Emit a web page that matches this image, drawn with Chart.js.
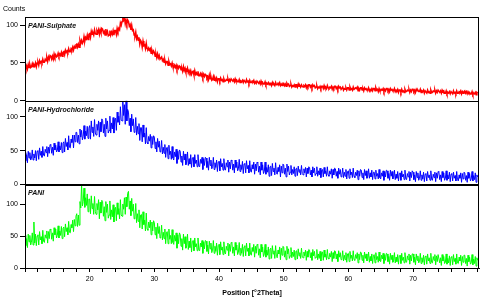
<!DOCTYPE html>
<html>
<head>
<meta charset="utf-8">
<script src="https://cdn.jsdelivr.net/npm/chart.js@4.4.0/dist/chart.umd.min.js"></script>
<style>
html,body{margin:0;padding:0;background:#fff;}
</style>
</head>
<body>
<canvas id="xrd" width="491" height="302"></canvas>
<script>
// scan: 10 .. 80 deg 2theta, 0.125 deg step, one row = 1 degree
var start = 10, step = 0.125;
var names = ['PANI-Sulphate', 'PANI-Hydrochloride', 'PANI'];
var colours = ['#ff0000', '#0000ff', '#00ff00'];
var widths = [1.5, 1, 1];
var yTicks = [0, 50, 100];
var xLabels = [20, 30, 40, 50, 60, 70];

var sulphate = [
 46,42,46,42,48,44,48,44, 45,49,45,48,46,50,45,50, 51,47,53,50,52,50,55,51, 51,55,53,57,52,58,55,60,
 59,55,59,55,62,58,61,58, 59,63,59,62,60,64,59,64, 65,61,67,64,66,64,69,65, 65,69,67,71,67,72,70,74,
 75,71,75,71,80,76,80,76, 78,85,79,84,82,87,81,88, 89,84,92,88,90,87,94,89, 88,93,90,94,88,94,90,96,
 95,90,92,87,95,89,92,86, 87,93,87,91,88,93,87,93, 93,88,96,92,96,94,103,100, 105,111,107,110,102,107,102,107,
 105,99,101,94,100,93,94,87, 86,91,82,85,80,84,75,80, 78,71,79,73,74,69,76,69, 68,70,67,69,63,67,63,66,
 64,59,62,57,62,57,60,55, 55,58,53,55,51,54,49,52, 52,47,52,48,49,46,50,45, 44,47,44,47,42,46,43,46,
 45,41,43,39,45,40,43,38, 39,43,37,40,37,40,35,38, 39,34,40,35,37,34,39,33, 33,36,33,36,31,35,32,35,
 34,30,32,28,34,29,32,27, 28,32,27,30,27,30,25,29, 29,26,30,27,28,25,29,26, 26,28,27,29,25,28,26,29,
 29,26,28,25,29,26,27,25, 25,28,24,26,25,27,24,27, 27,24,28,25,26,23,27,24, 24,26,25,27,23,25,23,26,
 26,23,25,22,26,23,24,22, 22,25,21,23,22,24,21,23, 23,20,24,21,22,20,24,21, 21,23,22,24,20,22,20,23,
 23,20,22,19,23,21,22,19, 20,22,18,20,19,21,18,21, 21,18,22,19,20,18,21,19, 18,20,19,21,17,20,18,21,
 21,18,20,17,21,19,20,17, 18,20,16,18,17,19,16,19, 19,16,20,17,18,16,20,17, 16,18,17,19,15,18,16,19,
 19,16,18,15,19,17,18,15, 15,18,14,16,15,17,14,17, 17,14,18,15,16,14,18,15, 15,17,16,18,13,16,14,17,
 17,14,16,13,17,15,16,14, 14,17,13,15,14,16,13,16, 16,13,17,14,15,12,16,13, 13,15,14,16,12,15,13,16,
 16,13,15,12,16,14,15,13, 13,16,12,14,13,15,11,14, 14,11,15,12,13,11,15,12, 12,14,13,15,11,14,12,15,
 15,12,14,11,15,13,14,12, 12,15,11,13,12,14,10,13, 13,10,14,11,12,10,14,11, 11,13,12,14,10,13,11,14,
 14,11,13,10,14,12,13,10, 10,13,9,11,10,12,9,12, 12,9,13,10,11,9,13,10, 10,12,11,13,9,12,10,12,
 13,10,12,9,12,10,11,9, 9,12,8,10,9,11,8,11,
 10
];

var hydrochloride = [
 47,35,44,32,49,39,47,36, 38,51,36,45,39,50,35,49, 50,37,54,43,49,40,56,43, 42,52,47,56,41,55,46,59,
 58,46,55,43,61,51,58,48, 50,63,48,57,51,62,47,61, 63,48,68,56,62,51,72,55, 54,67,62,73,54,73,63,77,
 77,62,73,60,82,70,80,66, 71,87,67,79,72,86,68,83, 87,67,94,77,85,71,96,76, 73,89,80,94,70,92,78,97,
 95,76,89,71,98,82,94,76, 80,101,76,91,82,99,76,96, 98,80,107,92,101,88,115,95, 94,123,102,118,89,124,94,111,
 107,87,98,78,104,87,97,77, 80,99,73,86,75,90,65,84, 84,63,88,70,76,60,84,62, 60,71,64,74,54,71,59,72,
 70,53,63,48,68,55,64,48, 51,65,45,55,46,59,40,54, 55,38,58,44,49,37,56,39, 36,48,41,52,31,49,37,51,
 49,33,42,28,49,36,45,29, 33,48,28,38,30,44,25,39, 40,26,44,31,36,26,44,28, 26,37,31,40,22,38,28,40,
 39,25,34,21,40,28,36,23, 26,40,22,32,25,36,19,33, 34,20,38,26,31,21,38,23, 21,32,26,36,18,33,23,36,
 35,21,30,17,36,25,33,20, 23,37,19,29,22,34,16,30, 31,17,35,23,28,17,35,20, 18,29,23,33,15,30,20,33,
 32,18,27,14,33,21,29,16, 19,33,15,25,18,29,12,26, 27,13,31,19,24,14,32,17, 15,25,19,29,11,27,17,30,
 29,15,24,11,30,19,27,14, 18,28,14,22,16,26,12,23, 24,13,27,18,22,14,28,16, 14,23,17,25,11,24,16,26,
 25,14,21,11,26,17,24,13, 16,26,12,20,14,24,10,21, 22,11,25,16,20,12,26,14, 12,20,15,23,9,22,14,24,
 23,12,19,9,24,15,22,11, 14,24,10,18,12,22,8,19, 20,9,23,14,18,10,24,12, 10,18,13,21,7,20,12,22,
 21,10,17,7,22,13,20,9, 12,23,9,17,11,21,7,18, 18,8,21,12,16,8,22,10, 8,17,12,20,6,19,11,21,
 20,9,16,6,21,12,19,8, 10,21,7,15,9,19,5,16, 17,6,20,11,15,7,21,9, 7,16,11,19,5,18,10,20,
 18,7,14,4,19,10,17,6, 9,20,6,14,8,18,4,15, 16,5,19,10,14,6,20,8, 6,15,10,18,4,17,9,19,
 18,7,14,4,19,10,17,6, 9,20,6,14,8,18,4,15, 16,5,18,9,13,5,19,7, 5,14,9,17,3,16,8,18,
 17,6,13,3,18,9,16,5, 8,19,5,13,7,17,3,14,
 11
];

var pani = [
 51,35,46,32,53,41,51,36, 40,55,36,72,39,53,35,50, 52,36,57,44,49,38,59,42, 40,52,47,58,39,57,46,61,
 60,45,55,42,63,52,61,47, 51,66,47,58,51,65,46,62, 64,49,69,57,63,52,73,56, 55,68,63,75,57,76,66,81,
 85,65,83,67,104,94,131,97, 104,125,95,110,98,116,88,108, 108,85,113,93,101,84,112,88, 84,101,91,107,77,103,86,106,
 104,81,96,74,104,87,100,78, 83,105,76,91,80,99,72,93, 95,74,102,84,93,77,107,83, 81,100,92,110,84,111,96,117,
 120,92,105,82,109,89,100,77, 80,101,71,85,73,91,63,83, 84,61,88,68,75,58,86,61, 59,72,63,75,52,72,58,74,
 71,52,64,46,70,54,65,47, 50,67,44,56,46,61,38,56, 57,38,61,45,51,38,60,40, 37,51,42,55,31,52,38,55,
 52,34,46,28,53,38,49,31, 35,53,29,42,32,47,25,42, 43,27,47,33,38,27,47,29, 27,39,33,43,23,41,30,43,
 42,26,36,22,42,30,39,24, 28,43,23,34,26,39,20,35, 37,21,41,28,33,21,41,24, 22,34,28,39,19,37,26,40,
 39,23,33,19,40,28,36,21, 25,40,20,31,23,37,18,33, 35,19,39,26,31,19,39,22, 20,32,26,37,17,34,23,37,
 36,20,30,16,37,25,33,18, 22,37,17,28,20,33,14,29, 31,15,35,22,27,15,35,18, 16,28,22,33,13,31,20,34,
 33,17,27,13,34,22,30,15, 19,32,16,25,18,28,13,26, 27,14,30,19,24,15,31,17, 16,25,19,28,12,26,17,29,
 28,16,24,12,29,19,26,15, 17,29,13,22,15,26,11,24, 25,12,28,17,22,13,29,15, 14,23,17,26,10,24,15,27,
 26,14,22,10,27,17,24,13, 15,27,11,20,13,24,9,22, 23,10,26,15,20,11,27,13, 12,21,15,24,8,22,13,25,
 24,12,20,8,25,15,22,11, 13,25,9,18,11,22,7,20, 21,8,24,13,18,9,25,11, 10,20,14,23,7,21,12,23,
 22,10,18,6,23,13,20,9, 11,24,8,17,10,21,6,19, 20,7,23,12,17,8,24,10, 9,19,13,22,6,20,11,22,
 22,9,17,5,22,12,19,8, 10,23,7,16,9,20,5,18, 19,6,22,11,16,7,23,9, 8,18,12,21,5,19,10,21,
 21,8,16,4,21,11,18,7, 9,22,6,15,8,19,4,17, 18,5,21,10,15,6,22,8, 7,17,11,20,4,18,9,20,
 20,7,15,3,20,10,17,6, 8,21,5,14,7,18,3,16,
 12
];

var series = [sulphate, hydrochloride, pani];
var axisIds = ['yR', 'yB', 'yG'];
var axisMax = [111, 124, 131];

function points(values) {
  return values.map(function (v, i) { return { x: start + i * step, y: v }; });
}

var font = 'Liberation Sans';

function yAxis(max) {
  return {
    type: 'linear', position: 'left', stack: 'xrd', stackWeight: 1,
    min: 0, max: max,
    afterBuildTicks: function (s) { s.ticks = yTicks.map(function (v) { return { value: v }; }); },
    afterFit: function (s) { s.width = 25; },
    grid: { drawOnChartArea: false, tickLength: 5, color: '#000' },
    border: { color: '#000', width: 1 },
    ticks: { font: { family: font, size: 7 }, color: '#000', padding: 2 }
  };
}

var scales = {
  x: {
    type: 'linear', min: 10, max: 80.2,
    afterBuildTicks: function (s) {
      var t = [];
      for (var v = 10; v <= 80; v += 2) t.push({ value: v });
      s.ticks = t;
    },
    afterFit: function (s) { s.height = 34; },
    grid: { drawOnChartArea: false, tickLength: 4, color: '#000' },
    border: { color: '#000', width: 1 },
    ticks: {
      autoSkip: false, maxRotation: 0, padding: 3,
      font: { family: font, size: 7 }, color: '#000',
      callback: function (v) { return xLabels.indexOf(v) >= 0 ? String(v) : ''; }
    },
    title: {
      display: true, text: 'Position [°2Theta]', color: '#000',
      font: { family: font, size: 7, weight: 'bold' },
      padding: { top: 4, bottom: 5 }
    }
  }
};
// bottom panel first so the sulphate panel ends up on top
scales.yG = yAxis(axisMax[2]);
scales.yB = yAxis(axisMax[1]);
scales.yR = yAxis(axisMax[0]);

var panels = {
  id: 'panels',
  afterDatasetsDraw: function (chart) {
    var ctx = chart.ctx, a = chart.chartArea;
    ctx.save();
    ctx.strokeStyle = '#000';
    ctx.lineWidth = 1;
    axisIds.forEach(function (id) {
      var s = chart.scales[id];
      ctx.strokeRect(Math.round(a.left) + 0.5, Math.round(s.top) + 0.5,
        Math.round(a.right - a.left) - 1, Math.round(s.bottom - s.top));
    });
    ctx.fillStyle = '#111';
    ctx.textBaseline = 'middle';
    ctx.font = 'italic bold 7px "' + font + '"';
    chart.data.datasets.forEach(function (d) {
      var s = chart.scales[d.yAxisID];
      ctx.fillText(d.label, a.left + 3, s.top + 9);
    });
    ctx.fillStyle = '#000';
    ctx.font = '7px "' + font + '"';
    ctx.fillText('Counts', 3, 9);
    ctx.restore();
  }
};

new Chart(document.getElementById('xrd').getContext('2d'), {
  type: 'line',
  data: {
    datasets: series.map(function (vals, k) {
      return {
        label: names[k], data: points(vals), yAxisID: axisIds[k],
        borderColor: colours[k], borderWidth: widths[k], pointRadius: 0, tension: 0
      };
    })
  },
  options: {
    responsive: false, animation: false, devicePixelRatio: 1,
    layout: { padding: { top: 17, right: 12, left: 0, bottom: 0 } },
    plugins: { legend: { display: false }, tooltip: { enabled: false } },
    scales: scales
  },
  plugins: [panels]
});
</script>
</body>
</html>
